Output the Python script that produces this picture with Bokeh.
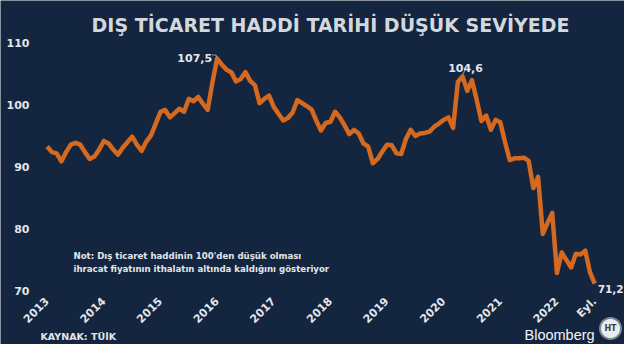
import math
from bokeh.plotting import figure
from bokeh.models import Range1d, FixedTicker, Label, PolyAnnotation, ColumnDataSource
from bokeh.embed import file_html
from bokeh.resources import INLINE

# ---------------- data (monthly, Jan 2013 - Sep 2022) ----------------
start_year = 2013
values = [
    93.3, 92.4, 92.2, 90.9, 92.4, 93.6, 93.9, 93.6, 92.4, 91.3, 91.7, 92.8,      # 2013
    94.2, 93.8, 92.8, 92.0, 93.1, 94.0, 94.9, 93.6, 92.6, 94.1, 95.1, 97.0,      # 2014
    98.9, 99.2, 98.0, 98.7, 99.4, 98.9, 101.0, 100.6, 101.3, 100.2, 99.2, 103.6,  # 2015
    107.5, 106.5, 105.7, 105.3, 103.8, 104.2, 105.3, 103.9, 103.2, 100.3, 101.0, 101.5,  # 2016
    99.7, 98.6, 97.5, 97.9, 98.8, 100.8, 100.3, 99.8, 99.3, 97.5, 95.9, 97.1,    # 2017
    97.3, 98.9, 98.0, 96.7, 95.3, 96.0, 95.4, 93.8, 93.3, 90.6, 91.3, 92.5,      # 2018
    93.6, 93.5, 92.2, 92.1, 94.5, 96.0, 95.0, 95.4, 95.5, 95.7, 96.5, 97.0,      # 2019
    97.6, 98.0, 96.3, 103.7, 104.6, 102.3, 104.0, 100.8, 97.4, 98.3, 96.0, 97.6,  # 2020
    97.2, 94.0, 91.1, 91.4, 91.4, 91.5, 91.0, 86.6, 88.4, 79.2, 81.0, 82.6,      # 2021
    72.9, 76.2, 75.0, 73.8, 76.0, 75.9, 76.5, 73.0, 71.2,                        # 2022 (Oca-Eyl)
]
tick_labels = ["2013", "2014", "2015", "2016", "2017", "2018", "2019",
               "2020", "2021", "2022", "Eyl."]
y_ticks = [70, 80, 90, 100, 110]
peak1_text = "107,5"
peak2_text = "104,6"
last_text = "71,2"
title_text = "DIŞ TİCARET HADDİ TARİHİ DÜŞÜK SEVİYEDE"
note_lines = ["Not: Dış ticaret haddinin 100'den düşük olması",
              "ihracat fiyatının ithalatın altında kaldığını gösteriyor"]
source_text = "KAYNAK: TÜİK"
brand_text = "Bloomberg"

# ---------------- layout (frame fills the whole canvas) ----------------
BG = "#14253f"
LINE = "#d4691f"
TXT = "#e3e6ea"
W, H = 624, 344
SX = 4.72            # px per month
SY = 6.2             # px per index point
X_START = 46.7       # canvas px of first month
Y110 = 42.5          # canvas px of value 110
x0, x1 = -X_START / SX, (W - X_START) / SX
y1 = 110 + Y110 / SY
y0 = y1 - H / SY

x = list(range(len(values)))
tick_pos = [12 * i for i in range(len(tick_labels) - 1)] + [len(values) - 1]


def X(px):  # canvas px -> data x
    return x0 + px / SX


def Y(py):  # canvas py -> data y
    return y1 - py / SY


def DX(d):
    return d / SX


def DY(d):
    return d / SY


p = figure(width=W, height=H, x_range=Range1d(x0, x1), y_range=Range1d(y0, y1),
           output_backend="svg", toolbar_location=None, min_border=0,
           min_border_left=0, min_border_right=0, min_border_top=0, min_border_bottom=0,
           background_fill_color=BG, border_fill_color=BG, outline_line_color=None)
p.grid.visible = False

for ax in (p.xaxis[0], p.yaxis[0]):
    ax.axis_line_color = None
    ax.major_tick_line_color = None
    ax.minor_tick_line_color = None
    ax.major_label_text_font = "DejaVu Sans"
    ax.major_label_text_font_style = "bold"
    ax.major_label_text_font_size = "11px"
    ax.major_label_text_color = TXT

p.yaxis.ticker = FixedTicker(ticks=y_ticks)
p.yaxis.major_label_standoff = 5
p.yaxis.fixed_location = X(40)
p.xaxis.ticker = FixedTicker(ticks=tick_pos)
p.xaxis.major_label_overrides = {t: lab for t, lab in zip(tick_pos, tick_labels)}
p.xaxis.major_label_orientation = math.pi / 4
p.xaxis.major_label_standoff = 4
p.xaxis.fixed_location = Y(289)

src = ColumnDataSource(dict(x=x, y=values))
p.line("x", "y", source=src, line_width=4.5, line_color=LINE, line_join="round")

# peak / last annotations
i1 = values.index(max(values[:60]))
i2 = values.index(max(values[60:]))
il = len(values) - 1
LEAD = "#9aa3ad"
p.line([i1 + DX(-5), i1 + DX(-1), i1 + DX(-0.3)],
       [values[i1] + DY(3.5), values[i1] + DY(3.5), values[i1] + DY(1)],
       line_color=LEAD, line_width=1)
p.line([i2 + DX(2.5), i2 + DX(0.3)],
       [values[i2] + DY(6.5), values[i2] + DY(2)],
       line_color=LEAD, line_width=1)

lab_style = dict(text_font="DejaVu Sans", text_font_style="bold",
                 text_color=TXT, text_baseline="alphabetic")
p.add_layout(Label(x=i1, y=values[i1], x_offset=-5, y_offset=1, text=peak1_text,
                   text_align="right", text_font_size="11px", **lab_style))
p.add_layout(Label(x=i2, y=values[i2], x_offset=3, y_offset=8, text=peak2_text,
                   text_align="center", text_font_size="11px", **lab_style))
p.add_layout(Label(x=il, y=values[il], x_offset=3, y_offset=-5, text=last_text,
                   text_align="left", text_font_size="10.5px", **lab_style))

# title
p.add_layout(Label(x=X(330), y=Y(24.5), text=title_text, text_align="center",
                   text_baseline="alphabetic", text_font="DejaVu Sans",
                   text_font_style="bold", text_font_size="19px", text_color="#d3d8de"))

# note
for k, line in enumerate(note_lines):
    p.add_layout(Label(x=X(73), y=Y(255 + 13.5 * k), text=line, text_align="left",
                       text_baseline="alphabetic", text_font="DejaVu Sans",
                       text_font_style="bold", text_font_size="8.6px", text_color=TXT))

# footer (squeezed to fit the canvas)
p.add_layout(Label(x=X(40), y=Y(336), text=source_text, text_align="left",
                   text_baseline="alphabetic", text_font="DejaVu Sans",
                   text_font_style="bold", text_font_size="9.5px", text_color=TXT))
p.add_layout(Label(x=X(524), y=Y(334), text=brand_text, text_align="left",
                   text_baseline="alphabetic", text_font="Liberation Sans",
                   text_font_size="14.5px", text_color="#f2f4f6"))

# logo (decorative)
cx, cy = X(610), Y(328)
for r, col in ((11.5, "#7d848c"), (9.5, "#e9ebed")):
    t = [2 * math.pi * k / 48 for k in range(48)]
    p.add_layout(PolyAnnotation(xs=[cx + DX(r) * math.cos(a) for a in t],
                                ys=[cy + DY(r) * math.sin(a) for a in t],
                                fill_color=col, fill_alpha=1.0, line_color=None))
p.add_layout(Label(x=cx, y=cy, text="HT", text_align="center", text_baseline="middle",
                   text_font="DejaVu Sans", text_font_style="bold", text_font_size="8px",
                   text_color="#3a3f45"))

open("out.html", "w").write(file_html(p, INLINE))
